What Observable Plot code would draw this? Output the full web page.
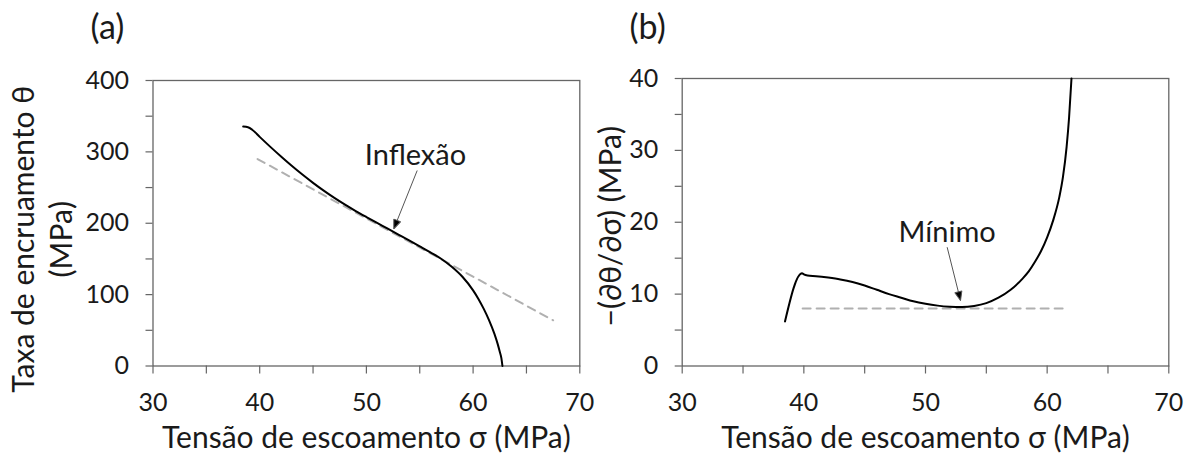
<!DOCTYPE html>
<html><head><meta charset="utf-8">
<script src="https://cdn.jsdelivr.net/npm/d3@7"></script>
<script src="https://cdn.jsdelivr.net/npm/@observablehq/plot@0.6"></script>
<style>
body{margin:0;background:#fff;}
#wrap{display:flex;width:1194px;height:459px;overflow:hidden;}
</style></head><body><div id="wrap"></div>
<script>
// ---------- data ----------
const xTicks = [30, 35, 40, 45, 50, 55, 60, 65, 70];
const yTicksA = [0, 50, 100, 150, 200, 250, 300, 350, 400];
const yTicksB = [0, 5, 10, 15, 20, 25, 30, 35, 40];

// (a) work-hardening rate vs flow stress
const aStress = [38.45, 38.9, 39.3, 40, 41, 42, 43, 44, 45, 46, 47, 48, 49, 50, 51, 52, 53, 54, 55, 56, 57, 58, 59, 60, 60.5, 61, 61.5, 62, 62.3, 62.5, 62.65, 62.75];
const aTheta  = [335.5, 334.5, 331, 321, 307, 293.5, 280.5, 268.2, 256.6, 245.7, 235.5, 226, 217.1, 208.7, 200.5, 192.3, 184.1, 175.9, 167.6, 159.2, 150.3, 139, 125, 106, 94, 80, 64, 45, 31, 20, 11, 0];
// tangent (dashed)
const aTanX = [39.8, 67.5];
const aTanY = [290, 64];
// annotation
const aNote = ["Inflexão"];
const aNoteX = [54.6];
const aNoteY = [295];
const aArrowX = [54.76, 52.57];
const aArrowY = [273.9, 192.2];

// (b) -(dθ/dσ) vs flow stress
const bStress = [38.45, 39.85, 40.0, 40.3, 41, 42, 43, 44, 45, 46, 47, 48, 49, 50, 51, 52, 53, 54, 55, 56, 57, 58, 58.5, 59, 59.5, 60, 60.5, 61, 61.3, 61.6, 61.8, 62.0];
const bRate   = [6.2, 12.9, 12.75, 12.6, 12.5, 12.3, 12.05, 11.7, 11.2, 10.6, 10.0, 9.5, 9.0, 8.65, 8.4, 8.25, 8.2, 8.35, 8.75, 9.5, 10.6, 12.2, 13.2, 14.5, 16.0, 17.9, 20.3, 23.5, 26.3, 30.5, 34.5, 40];
const bMinX = [39.9, 61.4];
const bMinY = [8, 8];
const bNote = ["Mínimo"];
const bNoteX = [51.78];
const bNoteY = [18.6];
const bArrowX = [51.78, 52.88];
const bArrowY = [16.53, 9.11];

const titleX = "Tensão de escoamento σ (MPa)";
const titleYA = "Taxa de encruamento θ\n(MPa)";
const titleYB = "−(∂θ/∂σ) (MPa)";

// ---------- styling ----------
const FONT = "Lato, 'Open Sans', sans-serif";
const AXIS = "#666";
const TEXT = "#1a1a1a";

function arrowHead(color, context) {
  const m = d3.create("svg:marker")
    .attr("viewBox", "-10 -5 10 10")
    .attr("markerUnits", "userSpaceOnUse")
    .attr("markerWidth", 10)
    .attr("markerHeight", 10)
    .attr("refX", 0).attr("refY", 0)
    .attr("orient", "auto");
  m.append("path").attr("d", "M-9,-3.6L0,0L-9,3.6Z").attr("fill", "#000");
  return m.node();
}

function panel({width, marginLeft, marginRight, marginTop, yDomain, yTicks, yMajor, xs, ys, dashX, dashY, note, noteX, noteY, noteSize, arrX, arrY, tag, tagDx, tagDy, ytitle, ytDx, ytDy, ytLine, ytSize}) {
  return Plot.plot({
    width, height: 459,
    marginLeft, marginRight, marginTop, marginBottom: 93.5,
    x: {domain: [30, 70]},
    y: {domain: yDomain},
    style: {fontFamily: FONT, color: TEXT, background: "white", overflow: "visible"},
    marks: [
      Plot.axisX(xTicks, {tickSize: 8, tickPadding: 19, fontSize: 25, stroke: AXIS, strokeWidth: 1.2,
        tickFormat: d => d % 10 === 0 ? String(d) : "", label: null}),
      Plot.axisY(yTicks, {tickSize: 7, tickPadding: 17, fontSize: 25, stroke: AXIS, strokeWidth: 1.2,
        tickFormat: d => d % yMajor === 0 ? String(d) : "", label: null}),
      Plot.frame({stroke: AXIS, strokeWidth: 1.3}),
      Plot.line(dashY, {x: dashX, y: dashY, stroke: "#b0b0b0", strokeWidth: 2, strokeDasharray: "8,6"}),
      Plot.line(ys, {x: xs, y: ys, stroke: "#000", strokeWidth: 2, curve: "monotone-x"}),
      Plot.link([0], {x1: [arrX[0]], y1: [arrY[0]], x2: [arrX[1]], y2: [arrY[1]], stroke: "#555", strokeWidth: 1, markerEnd: arrowHead}),
      Plot.text(note, {x: noteX, y: noteY, fontSize: noteSize, fill: TEXT}),
      Plot.text([titleX], {frameAnchor: "bottom", lineAnchor: "middle", dy: 72, fontSize: 30, fill: TEXT}),
      Plot.text([ytitle], {frameAnchor: "left", textAnchor: "middle", lineAnchor: "middle", rotate: -90, dx: ytDx, dy: ytDy, fontSize: ytSize, fill: TEXT, lineHeight: ytLine}),
      Plot.text([tag], {frameAnchor: "top-left", dx: tagDx, dy: tagDy, fontSize: 34, fill: TEXT})
    ]
  });
}

const plotA = panel({
  width: 600, marginLeft: 152.5, marginRight: 20.7, marginTop: 80,
  yDomain: [0, 400], yTicks: yTicksA, yMajor: 100,
  xs: aStress, ys: aTheta, dashX: aTanX, dashY: aTanY,
  note: aNote, noteX: aNoteX, noteY: aNoteY, noteSize: 29, arrX: aArrowX, arrY: aArrowY,
  tag: "(a)", tagDx: -62.5, tagDy: -66,
  ytitle: titleYA, ytDx: -112.5, ytDy: 16, ytLine: 1.27, ytSize: 30
});
const plotB = panel({
  width: 594, marginLeft: 81.7, marginRight: 25.7, marginTop: 78,
  yDomain: [0, 40], yTicks: yTicksB, yMajor: 10,
  xs: bStress, ys: bRate, dashX: bMinX, dashY: bMinY,
  note: bNote, noteX: bNoteX, noteY: bNoteY, noteSize: 29, arrX: bArrowX, arrY: bArrowY,
  tag: "(b)", tagDx: -52.7, tagDy: -64,
  ytitle: titleYB, ytDx: -73, ytDy: 4, ytLine: 1.2, ytSize: 30
});
document.getElementById("wrap").append(plotA, plotB);
</script></body></html>
